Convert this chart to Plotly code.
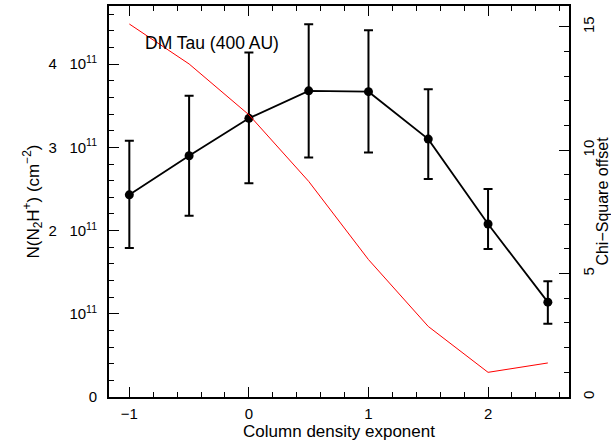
import plotly.graph_objects as go

exponent = [-1.0, -0.5, 0.0, 0.5, 1.0, 1.5, 2.0, 2.5]
column_density = [2.43e11, 2.90e11, 3.35e11, 3.68e11, 3.67e11, 3.10e11, 2.08e11, 1.14e11]
err_upper = [3.08e11, 3.62e11, 4.14e11, 4.48e11, 4.41e11, 3.70e11, 2.50e11, 1.39e11]
err_lower = [1.79e11, 2.18e11, 2.57e11, 2.88e11, 2.94e11, 2.62e11, 1.78e11, 0.88e11]
chi_square = [15.12, 13.5, 11.44, 8.74, 5.57, 2.86, 1.0, 1.38]

SUP = "<sup>11</sup>"
left_tickvals = [0, 1e11, 2e11, 3e11, 4e11]
left_ticktext = ["0", "10" + SUP, "2&nbsp;&nbsp;&nbsp;10" + SUP,
                 "3&nbsp;&nbsp;&nbsp;10" + SUP, "4&nbsp;&nbsp;&nbsp;10" + SUP]
x_tickvals = [-1, 0, 1, 2]
x_ticktext = ["\u22121", "0", "1", "2"]
right_tickvals = [0, 5, 10, 15]

err_plus = [u - v for u, v in zip(err_upper, column_density)]
err_minus = [v - l for v, l in zip(column_density, err_lower)]

FONT = "Liberation Sans, Arial, sans-serif"

fig = go.Figure()
fig.add_trace(go.Scatter(
    x=exponent, y=chi_square, mode="lines",
    line=dict(color="#ff0000", width=1), yaxis="y2", showlegend=False,
))
fig.add_trace(go.Scatter(
    x=exponent, y=column_density, mode="lines+markers",
    line=dict(color="black", width=1.8),
    marker=dict(color="black", size=9),
    error_y=dict(type="data", array=err_plus, arrayminus=err_minus,
                 color="black", thickness=2, width=4.5),
    showlegend=False,
))

fig.add_annotation(
    text="DM Tau (400 AU)", xref="paper", yref="paper",
    x=0.074, y=0.906, xanchor="left", yanchor="middle",
    showarrow=False, font=dict(family=FONT, size=17.5, color="black"),
)

fig.update_layout(
    width=611, height=447,
    margin=dict(l=109, r=42, t=6, b=50, autoexpand=False),
    paper_bgcolor="white", plot_bgcolor="white",
    font=dict(family=FONT, size=15, color="black"),
    xaxis=dict(
        range=[-1.17, 2.677], tickvals=x_tickvals, ticktext=x_ticktext,
        ticks="inside", ticklen=10, tickwidth=1.3, tickcolor="black",
        showline=True, linecolor="black", linewidth=2, mirror="ticks",
        showgrid=False, zeroline=False, automargin=False,
        minor=dict(ticks="inside", dtick=0.2, tick0=0, ticklen=5, tickwidth=1.3, tickcolor="black"),
        title=dict(text="Column density exponent", standoff=0, font=dict(size=17)),
        tickfont=dict(size=15),
        ticklabelstandoff=2,
    ),
    yaxis=dict(
        range=[0, 4.7e11], tickvals=left_tickvals, ticktext=left_ticktext,
        ticks="inside", ticklen=10, tickwidth=1.3, tickcolor="black",
        showline=True, linecolor="black", linewidth=2,
        showgrid=False, zeroline=False, automargin=False,
        minor=dict(ticks="inside", dtick=0.2e11, tick0=0, ticklen=5, tickwidth=1.3, tickcolor="black"),
        title=dict(text="N(N<sub>2</sub>H<sup>+</sup>) (cm<sup>\u22122</sup>)", standoff=5, font=dict(size=17)),
        tickfont=dict(size=15),
        ticklabelstandoff=7,
    ),
    yaxis2=dict(
        range=[0, 15.85], tickvals=right_tickvals,
        overlaying="y", side="right", anchor="x",
        ticks="inside", ticklen=10, tickwidth=1.3, tickcolor="black",
        showline=True, linecolor="black", linewidth=2,
        showgrid=False, zeroline=False, automargin=False,
        minor=dict(ticks="inside", dtick=1, tick0=0, ticklen=5, tickwidth=1.3, tickcolor="black"),
        tickangle=-90,
        title=dict(text="Chi\u2212Square offset", standoff=5, font=dict(size=16)),
        tickfont=dict(size=15),
        ticklabelstandoff=5,
    ),
)

fig.write_html("out.html", config={"displayModeBar": False},
               post_script="document.body.style.margin='0';")
